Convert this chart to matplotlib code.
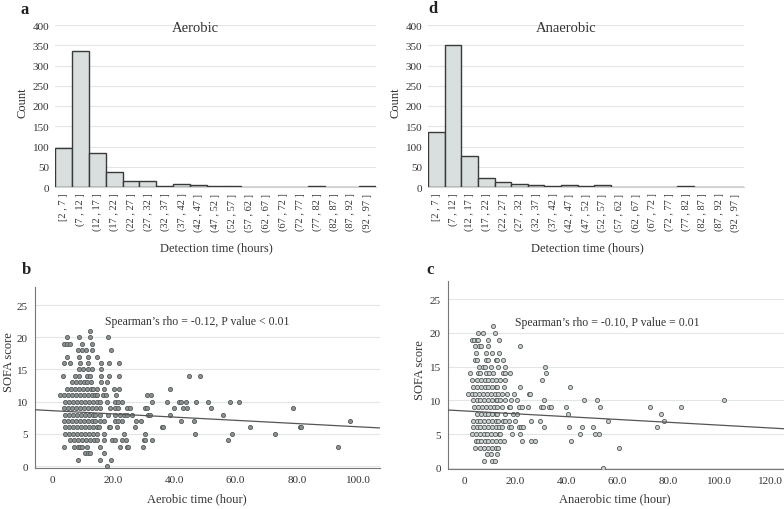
import matplotlib
matplotlib.use("Agg")
import matplotlib.pyplot as plt
import numpy as np

plt.rcParams['font.family'] = ['Liberation Serif', 'DejaVu Serif']

# ---------------- data ----------------
bins = ["[2 , 7 ]", "(7 , 12 ]", "(12 , 17 ]", "(17 , 22 ]", "(22 , 27 ]", "(27 , 32 ]",
        "(32 , 37 ]", "(37 , 42 ]", "(42 , 47 ]", "(47 , 52 ]", "(52 , 57 ]", "(57 , 62 ]",
        "(62 , 67 ]", "(67 , 72 ]", "(72 , 77 ]", "(77 , 82 ]", "(82 , 87 ]", "(87 , 92 ]",
        "(92 , 97 ]"]
aerobic_counts = [97, 336, 83, 36, 14, 14, 3, 7, 5, 2, 2, 1, 1, 1, 0, 3, 0, 1, 2]
anaerobic_counts = [136, 350, 77, 22, 13, 8, 6, 2, 5, 2, 6, 1, 1, 1, 1, 3, 0, 1, 1]

# Aerobic time (hours) by SOFA score level
aer_levels = [21, 20, 19, 18, 17, 16, 15, 14, 13, 12, 11, 10, 9, 8, 7, 6, 5, 4, 3, 2, 1, 0]
aer_times = [
    [12.3],
    [4.9, 8.7, 12.3, 18.2],
    [3.8, 4.9, 6.0, 9.8, 13.0],
    [8.4, 9.8, 11.2, 13.0, 19.2],
    [4.9, 8.8, 11.6, 14.7],
    [3.8, 5.8, 9.2, 11.8, 16.0, 18.5, 22.0],
    [8.7, 10.1, 11.6, 13.0, 16.0],
    [3.6, 7.6, 8.7, 11.4, 12.3, 16.0, 18.5, 22.0, 44.9, 48.5],
    [6.5, 7.8, 9.0, 10.3, 11.5, 12.8, 16.0, 18.0],
    [4.9, 6.2, 7.5, 8.8, 10.0, 11.3, 12.6, 13.4, 14.7, 16.8, 20.3, 22.0, 38.4],
    [2.7, 4.0, 5.3, 6.6, 7.9, 9.2, 10.4, 11.7, 13.0, 14.1, 14.7, 16.5, 17.7, 21.0, 31.0, 32.3],
    [4.3, 5.6, 6.9, 8.2, 9.5, 10.8, 12.1, 13.4, 14.7, 15.8, 17.9, 20.7, 21.5, 22.8, 32.6, 37.5,
     41.5, 42.2, 43.8, 47.0, 50.8, 58.2, 61.1],
    [3.8, 5.1, 6.4, 7.7, 9.0, 10.3, 11.6, 12.9, 14.2, 15.8, 19.0, 20.7, 21.7, 24.5, 25.5, 30.4,
     31.0, 39.9, 42.7, 44.2, 52.1, 78.8],
    [4.3, 5.6, 6.9, 8.2, 9.5, 10.8, 12.1, 13.4, 14.1, 15.8, 18.2, 20.7, 22.3, 23.4, 24.5, 26.1,
     31.5, 32.1, 38.6, 56.0],
    [3.8, 5.1, 6.4, 7.7, 9.0, 10.3, 11.6, 12.9, 14.1, 15.8, 16.8, 20.7, 21.7, 22.8, 27.5, 29.1,
     42.1, 46.4, 97.5],
    [4.3, 5.6, 6.9, 8.2, 9.5, 10.8, 12.1, 13.4, 14.7, 15.2, 18.5, 19.0, 21.2, 27.2, 35.9, 36.2,
     64.7, 81.0, 81.5],
    [4.3, 5.6, 6.9, 8.2, 9.5, 10.8, 12.1, 13.4, 14.7, 16.8, 23.4, 30.4, 46.7, 58.7, 72.8],
    [6.0, 7.3, 8.6, 9.9, 11.2, 12.5, 13.8, 14.7, 16.8, 19.6, 20.7, 22.8, 24.2, 29.9, 30.4, 32.6, 57.6],
    [4.0, 7.1, 8.3, 9.0, 9.8, 11.4, 15.8, 22.1, 24.5, 24.7, 29.7, 93.5],
    [10.9, 11.6, 12.3, 17.1],
    [8.4, 15.5, 19.3],
    [17.9],
]

# Anaerobic time (hours) by SOFA score level
ana_levels = [21, 20, 19, 18, 17, 16, 15, 14, 13, 12, 11, 10, 9, 8, 7, 6, 5, 4, 3, 2, 1, 0]
ana_times = [
    [11.3],
    [5.4, 7.3, 11.8],
    [3.0, 3.9, 4.9, 5.4, 9.2, 13.7],
    [4.1, 5.8, 6.4, 9.2, 21.8],
    [4.5, 8.3, 10.9, 13.5],
    [4.1, 4.9, 8.3, 9.2, 12.2, 12.8, 15.1],
    [5.8, 7.1, 8.1, 10.5, 13.1, 15.8, 31.7],
    [2.3, 5.4, 6.2, 8.3, 9.6, 11.3, 15.1, 16.0, 18.0, 32.1],
    [3.0, 4.9, 6.4, 7.9, 9.4, 10.9, 12.4, 14.1, 15.7, 30.6],
    [3.2, 4.9, 6.4, 7.9, 9.4, 10.9, 12.4, 12.8, 15.4, 21.8, 41.3],
    [1.3, 2.8, 4.3, 5.8, 7.3, 8.8, 10.3, 11.8, 13.3, 14.8, 16.7, 19.5, 25.4, 25.7],
    [3.2, 4.7, 6.2, 7.7, 9.2, 10.7, 12.2, 12.8, 13.9, 15.7, 18.2, 20.8, 31.2, 47.1, 52.0, 102.1],
    [3.9, 5.4, 6.9, 8.4, 9.9, 11.4, 12.8, 14.8, 17.3, 18.0, 21.2, 22.5, 25.0, 30.2, 30.8, 33.1,
     34.0, 39.8, 53.3, 72.9, 85.0],
    [4.9, 6.4, 7.9, 9.4, 10.9, 12.4, 12.8, 15.8, 19.0, 20.5, 40.8, 77.3],
    [3.2, 4.7, 6.2, 7.7, 9.2, 10.7, 12.2, 13.1, 15.1, 16.0, 17.3, 19.9, 26.3, 29.5, 56.2, 78.3],
    [3.2, 4.7, 6.2, 7.7, 9.2, 10.7, 12.2, 13.7, 14.8, 17.3, 18.2, 21.2, 22.0, 23.1, 31.1, 41.1,
     46.0, 50.3, 75.5],
    [3.0, 4.5, 6.0, 7.5, 9.0, 10.5, 12.0, 13.5, 14.1, 18.6, 21.8, 45.2, 51.1, 52.9],
    [4.5, 5.1, 6.4, 7.9, 9.4, 10.9, 12.4, 14.1, 15.4, 22.5, 26.3, 27.6, 41.7],
    [4.1, 6.2, 7.7, 9.2, 10.7, 12.2, 13.1, 60.7],
    [9.0, 10.3, 12.6],
    [7.7, 10.9, 11.8],
    [54.3],
]

aer_fit = (8.6, -0.025)   # intercept, slope
ana_fit = (8.45, -0.021)

W, H = 784, 510
fig = plt.figure(figsize=(W / 100, H / 100), dpi=100)

def box(l, t, r, b):
    return [l / W, 1 - b / H, (r - l) / W, (b - t) / H]

TXT = '#333333'
GRID = '#e3e6e6'

def hist_panel(rect, counts, title, title_x):
    ax = fig.add_axes(rect)
    x = np.arange(len(counts))
    ax.bar(x, counts, width=1.0, color='#d9dfde', edgecolor='#3a3a3a', linewidth=1.0, zorder=3)
    ax.set_xlim(-0.5, len(counts) - 0.5)
    ax.set_ylim(0, 400)
    ax.set_yticks(range(0, 401, 50))
    ax.set_xticks(x)
    ax.set_xticklabels(bins, rotation=90, fontsize=7.5, color=TXT)
    ax.tick_params(axis='y', labelsize=8, colors=TXT, length=0, pad=4)
    ax.tick_params(axis='x', length=0, pad=4)
    ax.grid(axis='y', color=GRID, linewidth=0.8, zorder=0)
    for s in ['top', 'right', 'left']:
        ax.spines[s].set_visible(False)
    ax.spines['bottom'].set_color('#cfd3d3')
    ax.text(title_x, 0.985, title, transform=ax.transAxes, ha='center', va='center',
            fontsize=10.5, color=TXT)
    return ax

def scatter_panel(rect, levels, times, fit, xlim, ylim, xticks, text, text_xy, face):
    ax = fig.add_axes(rect)
    xs, ys = [], []
    for lv, ts in zip(levels, times):
        xs.extend(ts)
        ys.extend([lv] * len(ts))
    ax.scatter(xs, ys, s=9, facecolor=face, edgecolor='#555a5a', linewidth=0.6, zorder=3)
    lx = np.array(xlim)
    ax.plot(lx, fit[0] + fit[1] * lx, color='#555555', linewidth=0.9, zorder=4)
    ax.set_xlim(*xlim)
    ax.set_ylim(*ylim)
    ax.set_yticks(range(0, 26, 5))
    ax.set_xticks(xticks)
    ax.set_xticklabels(['0'] + ['%.1f' % v for v in xticks[1:]])
    ax.tick_params(axis='both', labelsize=8, colors=TXT, length=0, pad=5)
    ax.grid(axis='y', color=GRID, linewidth=0.8, zorder=0)
    for s in ['top', 'right']:
        ax.spines[s].set_visible(False)
    for s in ['left', 'bottom']:
        ax.spines[s].set_color('#777777')
        ax.spines[s].set_linewidth(0.8)
    ax.text(text_xy[0], text_xy[1], text, ha='center', va='center', fontsize=8.5, color=TXT)
    return ax

hist_panel(box(55, 26, 376, 188), aerobic_counts, 'Aerobic', 0.436)
hist_panel(box(428, 26, 744, 188), anaerobic_counts, 'Anaerobic', 0.437)

scatter_panel(box(35, 288, 380, 469), aer_levels, aer_times, aer_fit,
              (-5.6, 107.2), (-0.3, 27.8), [0, 20, 40, 60, 80, 100],
              "Spearman\u2019s rho = -0.12, P value < 0.01", (47.4, 22.5), '#8c9292')
scatter_panel(box(448, 282, 784, 470), ana_levels, ana_times, ana_fit,
              (-6.5, 125.5), (-0.15, 27.7), [0, 20, 40, 60, 80, 100, 120],
              "Spearman\u2019s rho = -0.10, P value = 0.01", (56, 21.7), '#c9cfcf')

def ftext(x, y, s, **kw):
    fig.text(x / W, 1 - y / H, s, **kw)

# panel letters
ftext(25, 10, 'a', fontsize=12, fontweight='bold', ha='center', va='center', color='#222222')
ftext(433, 9, 'd', fontsize=12, fontweight='bold', ha='center', va='center', color='#222222')
ftext(26, 270, 'b', fontsize=12, fontweight='bold', ha='center', va='center', color='#222222')
ftext(430, 270, 'c', fontsize=12, fontweight='bold', ha='center', va='center', color='#222222')

# axis labels
ftext(216, 248, 'Detection time (hours)', fontsize=9, ha='center', va='center', color=TXT)
ftext(587, 248, 'Detection time (hours)', fontsize=9, ha='center', va='center', color=TXT)
ftext(22, 103, 'Count', fontsize=9, rotation=90, ha='center', va='center', color=TXT)
ftext(396, 103, 'Count', fontsize=9, rotation=90, ha='center', va='center', color=TXT)
ftext(197, 499, 'Aerobic time (hour)', fontsize=9, ha='center', va='center', color=TXT)
ftext(615, 499, 'Anaerobic time (hour)', fontsize=9, ha='center', va='center', color=TXT)
ftext(9, 362, 'SOFA score', fontsize=9, rotation=90, ha='center', va='center', color=TXT)
ftext(420, 370, 'SOFA score', fontsize=9, rotation=90, ha='center', va='center', color=TXT)

fig.savefig('out.png', dpi=100)
